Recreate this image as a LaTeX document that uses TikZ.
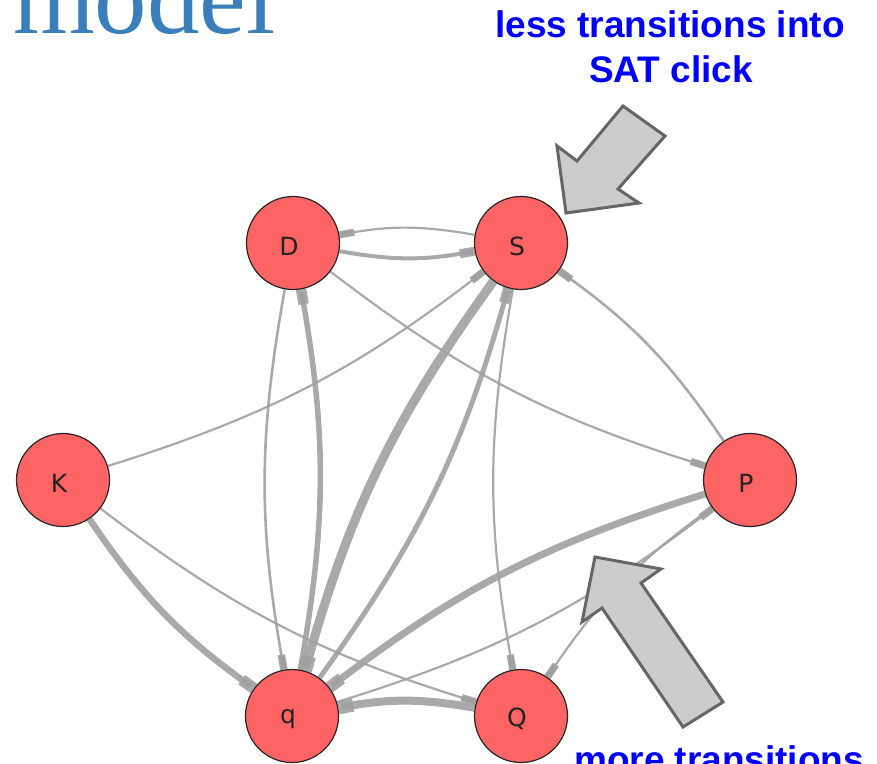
\documentclass[tikz,border=0pt]{standalone}
\usepackage{fontspec}
\setmainfont{Liberation Serif}
\newfontfamily\arialfont{Liberation Sans}
\newfontfamily\dejavufont{DejaVu Sans}
\usetikzlibrary{arrows.meta,backgrounds}
\definecolor{nodered}{RGB}{255,100,100}
\definecolor{edgegray}{RGB}{160,160,160}
\definecolor{modelblue}{RGB}{58,127,185}
\definecolor{notepure}{RGB}{0,0,255}
\definecolor{blockfill}{RGB}{204,204,204}
\definecolor{blockline}{RGB}{102,102,102}
\definecolor{labeldark}{RGB}{34,34,34}
\begin{document}
\begin{tikzpicture}[x=1pt,y=-1pt,
  state/.style={circle, minimum size=93pt, inner sep=0pt, fill=nodered, draw=black!85, line width=1.2pt},
  statelabel/.style={text=labeldark, font=\dejavufont\fontsize{25}{27}\selectfont, inner sep=0pt},
  edge/.style={draw=edgegray, draw opacity=0.9, -{Rectangle[length=15pt, width=5pt 1]}},
  blockarrow/.style={fill=blockfill, draw=blockline, line width=3pt, line join=miter},
  note/.style={font=\arialfont\bfseries\fontsize{37}{44}\selectfont, text=notepure, inner sep=0pt}
]
\useasboundingbox (0,0) rectangle (877,763);
\clip (0,0) rectangle (877,763);

% title (cut off)
\node[anchor=base west, inner sep=0pt, text=modelblue, font=\fontsize{105}{110}\selectfont] (title) at (13,33) {model};

% states
\node[state] (D) at (293,243) {};
\node[state] (S) at (521,243) {};
\node[state] (K) at (63,480) {};
\node[state] (P) at (750,480) {};
\node[state] (q) at (292,716) {};
\node[state] (Q) at (521,716) {};
\node[statelabel] (Dl) at ([xshift=-4pt,yshift=-3pt]D.center) {D};
\node[statelabel] (Sl) at ([xshift=-4pt,yshift=-3pt]S.center) {S};
\node[statelabel] (Kl) at ([xshift=-4pt,yshift=-3pt]K.center) {K};
\node[statelabel] (Pl) at ([xshift=-4pt,yshift=-3pt]P.center) {P};
\node[statelabel] (ql) at ([xshift=-4pt,yshift=-3pt]q.center) {q};
\node[statelabel] (Ql) at ([xshift=-4pt,yshift=-3pt]Q.center) {Q};

% transitions
\begin{scope}[on background layer]
\draw[edge, line width=2.2pt] (S) to[bend right=10] (D);
\draw[edge, line width=4pt] (D) to[bend right=10] (S);
\draw[edge, line width=2.2pt] (D) to[bend right=10] (P);
\draw[edge, line width=2.2pt] (K) to[bend right=10] (S);
\draw[edge, line width=6.5pt] (K) to[bend right=10] (q);
\draw[edge, line width=2.2pt] (K) to[bend right=10] (Q);
\draw[edge, line width=2.6pt] (D) to[bend right=10] (q);
\draw[edge, line width=5.5pt] (q) to[bend right=10] (D);
\draw[edge, line width=9pt] (S) to[bend right=10] (q);
\draw[edge, line width=5pt] (q) to[bend right=10] (S);
\draw[edge, line width=2.2pt] (S) to[bend right=10] (Q);
\draw[edge, line width=7pt] (P) to[bend right=10] (q);
\draw[edge, line width=2.2pt] (q) to[bend right=10] (P);
\draw[edge, line width=2.2pt] (P) to[bend right=10] (Q);
\draw[edge, line width=2.6pt] (P) to[bend right=10] (S);
\draw[edge, line width=8pt] (Q) to[bend right=10] (q);
\end{scope}

% block arrows
\draw[blockarrow] (623,106) -- (665,136) -- (618,189) -- (639,203) -- (566,213) -- (557,146) -- (577,161) -- cycle;
\draw[blockarrow] (595,557) -- (661,569) -- (641,583) -- (723,702) -- (683,727) -- (602,608) -- (582,622) -- cycle;

% notes
\node[note, anchor=base] (less1) at (670,37) {less transitions into};
\node[note, anchor=base] (less2) at (671,82) {SAT click};
\node[note, anchor=base west] (more) at (574,772) {more transitions};
\end{tikzpicture}
\end{document}
